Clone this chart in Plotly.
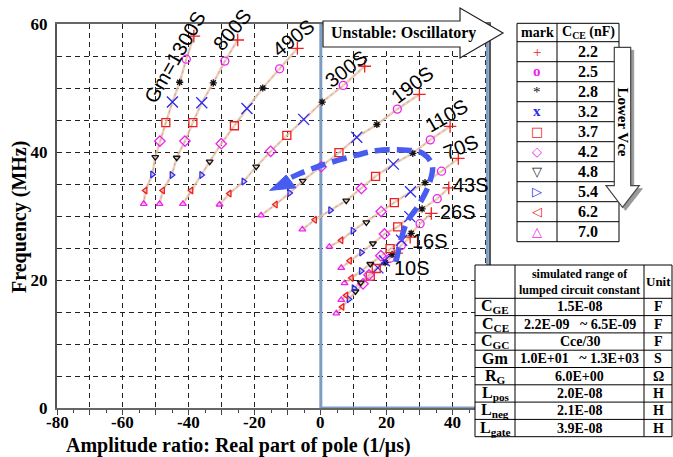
import plotly.graph_objects as go

# ---------------- data ----------------
cce_values = ["2.2", "2.5", "2.8", "3.2", "3.7", "4.2", "4.8", "5.4", "6.2", "7.0"]
mark_glyphs = ["+", "o", "*", "x", "□", "◇", "▽", "▷", "◁", "△"]
gm_labels = ["Gm=1300S", "800S", "490S", "300S", "190S", "110S", "70S", "43S", "26S", "16S", "10S"]

# real part (1/us) and frequency (MHz) for each Gm, ordered by CCE 2.2 ... 7.0
re_1300 = [-38.5, -40.8, -42.8, -45.0, -47.0, -48.8, -50.2, -51.1, -53.2, -53.7]
f_1300 = [58.1, 54.5, 50.9, 47.8, 44.6, 41.7, 39.2, 36.5, 34.0, 31.9]
re_800 = [-25.2, -29.1, -32.6, -36.1, -38.8, -41.2, -43.7, -45.2, -47.9, -48.9]
f_800 = [57.5, 54.2, 50.8, 47.7, 44.6, 41.7, 39.1, 36.4, 34.0, 31.9]
re_490 = [-7.1, -12.5, -17.6, -22.4, -26.2, -30.2, -33.7, -36.2, -39.3, -41.8]
f_490 = [56.2, 53.0, 50.0, 46.8, 44.1, 41.3, 38.5, 36.4, 34.0, 31.9]
re_300 = [13.3, 6.8, 0.4, -5.2, -10.3, -15.2, -19.6, -23.4, -27.7, -30.7]
f_300 = [53.4, 50.4, 47.8, 45.1, 42.6, 40.1, 37.7, 35.4, 33.5, 31.8]
re_190 = [29.9, 23.2, 17.0, 10.9, 5.5, 0.1, -5.5, -9.5, -13.7, -18.1]
f_190 = [49.0, 46.7, 44.3, 42.3, 39.9, 37.7, 35.5, 33.6, 31.8, 30.1]
re_110 = [39.2, 33.2, 27.9, 22.0, 16.6, 12.3, 7.7, 2.9, -1.8, -5.6]
f_110 = [44.0, 41.9, 39.8, 38.1, 36.2, 34.3, 32.4, 30.9, 29.4, 27.9]
re_70 = [41.7, 36.6, 31.6, 27.2, 22.3, 18.3, 13.8, 9.7, 6.2, 2.6]
f_70 = [39.0, 37.0, 35.2, 33.8, 32.1, 30.7, 29.0, 27.7, 26.2, 25.2]
re_43 = [38.8, 35.3, 30.7, 27.0, 23.3, 19.3, 15.8, 12.3, 8.8, 6.2]
f_43 = [34.4, 32.7, 31.1, 29.9, 28.3, 27.2, 25.7, 24.3, 23.0, 21.9]
re_26 = [33.5, 30.1, 27.4, 24.5, 21.0, 18.2, 15.0, 12.2, 9.3, 7.2]
f_26 = [30.4, 28.8, 27.3, 26.2, 24.9, 23.8, 22.5, 21.4, 20.3, 19.5]
re_16 = [27.1, 24.4, 21.6, 19.3, 16.8, 14.6, 12.1, 10.0, 7.7, 6.2]
f_16 = [26.7, 25.4, 24.0, 23.0, 21.8, 20.8, 19.6, 18.7, 17.6, 16.9]
re_10 = [23.0, 21.0, 19.5, 17.3, 15.0, 12.8, 10.5, 8.5, 6.5, 4.7]
f_10 = [24.2, 23.4, 22.7, 21.9, 20.6, 19.4, 18.2, 17.0, 15.8, 14.8]

# blue trend arrow path (data units)
trend_re = [22.8, 25.9, 29.9, 32.9, 33.8, 30.9, 24.8, 16.8, 8.7, 0.1, -6.5, -9.5]
trend_f = [22.8, 28.8, 31.9, 35.1, 37.9, 39.8, 40.3, 40.2, 39.2, 37.9, 36.6, 35.9]
head_re = [-15.5, -10.5, -7.5, -15.5]
head_f = [34.0, 36.4, 34.4, 34.0]

x_gridvals = [-80, -70, -60, -50, -40, -30, -20, -10, 0, 10, 20, 30, 40, 50]
x_labelvals = [-80, -60, -40, -20, 0, 20, 40]
x_labeltext = ["-80", "-60", "-40", "-20", "0", "20", "40"]
y_tickvals = [0, 20, 40, 60]
y_ticktext = ["0", "20", "40", "60"]

param_names = ["C<sub>GE</sub>", "C<sub>CE</sub>", "C<sub>GC</sub>", "Gm", "R<sub>G</sub>",
               "L<sub>pos</sub>", "L<sub>neg</sub>", "L<sub>gate</sub>"]
param_ranges = ["1.5E-08", "2.2E-09 &nbsp; ~ 6.5E-09", "Cce/30", "1.0E+01 &nbsp; ~ 1.3E+03",
                "6.0E+00", "2.0E-08", "2.1E-08", "3.9E-08"]
param_units = ["F", "F", "F", "S", "Ω", "H", "H", "H"]

gm_re = [re_1300, re_800, re_490, re_300, re_190, re_110, re_70, re_43, re_26, re_16, re_10]
gm_f = [f_1300, f_800, f_490, f_300, f_190, f_110, f_70, f_43, f_26, f_16, f_10]

# ---------------- styles ----------------
RED = "#ee2020"
MAG = "#ee22ee"
BLUE = "#2a2af0"
BLK = "#111111"
symbols = ["cross-thin-open", "circle-open", "asterisk-open", "x-thin-open", "square-open",
           "diamond-open", "triangle-down-open", "triangle-right-open", "triangle-left-open",
           "triangle-up-open"]
colors = [RED, MAG, BLK, BLUE, RED, MAG, BLK, BLUE, RED, MAG]
sizes = [9, 8, 6, 11, 8, 8, 6, 6, 6, 6]
SERIF = "Liberation Serif"
SANS = "Liberation Sans"

fig = go.Figure()

for xs, ys in zip(gm_re, gm_f):
    fig.add_trace(go.Scatter(x=xs, y=ys, mode="lines",
                             line=dict(color="rgba(240,200,175,0.85)", width=2.5),
                             hoverinfo="skip", showlegend=False))
    fig.add_trace(go.Scatter(x=xs, y=ys, mode="lines",
                             line=dict(color="rgba(160,160,160,0.7)", width=1, dash="dot"),
                             hoverinfo="skip", showlegend=False))

for i in range(len(cce_values)):
    fig.add_trace(go.Scatter(
        x=[xs[i] for xs in gm_re], y=[ys[i] for ys in gm_f], mode="markers",
        marker=dict(symbol=symbols[i], size=sizes[i], color=colors[i],
                    line=dict(color=colors[i], width=1.3)),
        name=cce_values[i], showlegend=False))

fig.add_trace(go.Scatter(x=trend_re, y=trend_f, mode="lines",
                         line=dict(color="rgb(72,92,240)", width=5.5, dash="15px,7px", shape="spline"),
                         hoverinfo="skip", showlegend=False))
fig.add_trace(go.Scatter(x=head_re, y=head_f, mode="lines", fill="toself",
                         fillcolor="rgb(72,92,240)", line=dict(color="rgb(72,92,240)", width=1),
                         hoverinfo="skip", showlegend=False))

# ---------------- layout helpers (pixel -> paper) ----------------
L, R, T, B = 57, 489, 24, 408


def PX(x):
    return (x - L) / (R - L)


def PY(y):
    return (B - y) / (B - T)


shapes = []
annotations = []


def hline(x0, x1, y, color="black", w=1):
    shapes.append(dict(type="line", xref="paper", yref="paper", x0=PX(x0), x1=PX(x1),
                       y0=PY(y), y1=PY(y), line=dict(color=color, width=w)))


def vline(x, y0, y1, color="black", w=1):
    shapes.append(dict(type="line", xref="paper", yref="paper", x0=PX(x), x1=PX(x),
                       y0=PY(y0), y1=PY(y1), line=dict(color=color, width=w)))


def path(pts, fill, line, w=1.2):
    d = "M " + " L ".join(f"{PX(a):.5f},{PY(b):.5f}" for a, b in pts) + " Z"
    shapes.append(dict(type="path", xref="paper", yref="paper", path=d,
                       fillcolor=fill, line=dict(color=line, width=w)))


def text(x, y, s, size, family=SERIF, color="black", angle=0, bold=True):
    annotations.append(dict(xref="paper", yref="paper", x=PX(x), y=PY(y),
                            text=(f"<b>{s}</b>" if bold else s), showarrow=False,
                            xanchor="center", yanchor="middle", textangle=angle,
                            font=dict(family=family, size=size, color=color)))


# unstable region
shapes.append(dict(type="rect", xref="x", yref="y", x0=0, x1=50.5, y0=0, y1=60,
                   line=dict(color="#7f9dc2", width=3), layer="between"))

# Unstable block arrow
path([(323, 21), (460, 21), (460, 8), (503, 33), (460, 58), (460, 47), (323, 47)], "white", "#222")
text(403, 33, "Unstable: Oscillatory", 16)

# top-right legend table
tx0, tx1, tx2 = 517, 557, 619
ty0, ty1 = 23.3, 41.7
rowh = 20
hline(tx0, tx2, ty0)
hline(tx0, tx2, ty1)
for i in range(10):
    hline(tx0, tx2, ty1 + rowh * (i + 1))
vline(tx0, ty0, ty1 + rowh * 10)
vline(tx1, ty0, ty1 + rowh * 10)
vline(tx2, ty0, ty1 + rowh * 10)
text((tx0 + tx1) / 2, (ty0 + ty1) / 2, "mark", 14)
text((tx1 + tx2) / 2, (ty0 + ty1) / 2, "C<sub>CE</sub> (nF)", 14)
for i in range(10):
    yc = ty1 + rowh * i + rowh / 2
    text(588, yc, cce_values[i], 16)
    g = mark_glyphs[i]
    if g in ("o", "x"):
        text(537, yc - 1, g, 15, family=SERIF, color=colors[i])
    elif g in ("+", "*"):
        text(537, yc, g, 15, family=SERIF, color=colors[i], bold=False)
    else:
        text(537, yc, g, 13, family="DejaVu Sans", color=colors[i], bold=False)

# Lower Vce arrow (shadow then arrow)
arrow_pts = [(614.3, 47.3), (630.7, 47.3), (630.7, 185.7), (639.3, 185.7), (622.5, 207.3),
             (606, 185.7), (614.3, 185.7)]
path([(a + 3, b + 3) for a, b in arrow_pts], "#9a9a9a", "#9a9a9a", 1)
path(arrow_pts, "white", "#444", 1.2)
text(622.5, 122, "Lower Vce", 15, angle=90)

# bottom parameter table
bx0, bx1, bx2, bx3 = 475, 515, 644, 672
by0, by1 = 265, 298.3
brow = 17.3
shapes.append(dict(type="rect", xref="paper", yref="paper", x0=PX(bx0), x1=PX(bx3),
                   y0=PY(by1 + brow * 8), y1=PY(by0), fillcolor="white",
                   line=dict(color="black", width=1)))
hline(bx0, bx3, by1)
for i in range(1, 8):
    hline(bx0, bx3, by1 + brow * i)
vline(bx1, by0, by1 + brow * 8)
vline(bx2, by0, by1 + brow * 8)
text((bx1 + bx2) / 2, (by0 + by1) / 2, "simulated range of<br>lumped circuit constant", 12)
text((bx2 + bx3) / 2, (by0 + by1) / 2, "Unit", 13)
for i in range(8):
    yc = by1 + brow * i + brow / 2
    text((bx0 + bx1) / 2, yc, param_names[i], 16)
    text((bx1 + bx2) / 2, yc, param_ranges[i], 14)
    text((bx2 + bx3) / 2, yc, param_units[i], 14)

# Gm labels
gm_label_pos = [(175, 57, -60), (232, 30, -50), (293, 38, -38), (346, 69, -37), (412, 85, -37),
                (446, 116, -30), (461, 147, -22), (471, 185, 0), (458, 212, 0), (430, 241, 0),
                (412, 268, 0)]
for lab, (x, y, a) in zip(gm_labels, gm_label_pos):
    text(x, y, lab, 20, family=SANS, angle=a, bold=False)

# x tick labels (hyphen minus as in the original)
for v, t in zip(x_labelvals, x_labeltext):
    annotations.append(dict(xref="x", yref="paper", x=v, y=PY(422), text=f"<b>{t}</b>",
                            showarrow=False, xanchor="center", yanchor="middle",
                            font=dict(family=SERIF, size=17, color="black")))

# axis titles
text(238, 445, "Amplitude ratio: Real part of pole (1/μs)", 20)
text(19, 217, "Frequency (MHz)", 20, angle=-90)

fig.update_layout(
    width=673, height=457, autosize=False,
    margin=dict(l=L, r=673 - R, t=T, b=457 - B),
    paper_bgcolor="white", plot_bgcolor="white",
    shapes=shapes, annotations=annotations, showlegend=False,
    xaxis=dict(range=[-80, 51], tickmode="array", tickvals=x_gridvals, showticklabels=False,
               showgrid=True, gridcolor="#222", griddash="5px,4px", gridwidth=1,
               showline=True, linecolor="#666", linewidth=2, mirror=True,
               ticks="outside", ticklen=5, tickcolor="#444",
               minor=dict(tickmode="linear", tick0=0, dtick=5, ticks="outside", ticklen=3,
                          tickcolor="#444", showgrid=False),
               zeroline=False),
    yaxis=dict(range=[0, 60], tickmode="array", tickvals=y_tickvals, ticktext=y_ticktext,
               showgrid=True, gridcolor="#222", griddash="5px,4px", gridwidth=1,
               minor=dict(tickmode="linear", tick0=0, dtick=5, showgrid=True, gridcolor="#222",
                          griddash="5px,4px", gridwidth=1, ticks=""),
               showline=True, linecolor="#555", linewidth=2, mirror=True,
               ticks="", ticklabelstandoff=4,
               tickfont=dict(family=SERIF, size=17, color="black", weight="bold"),
               zeroline=False),
)

fig.write_html("out.html", config={"displayModeBar": False},
               post_script="document.body.style.margin='0';document.body.style.padding='0';")
